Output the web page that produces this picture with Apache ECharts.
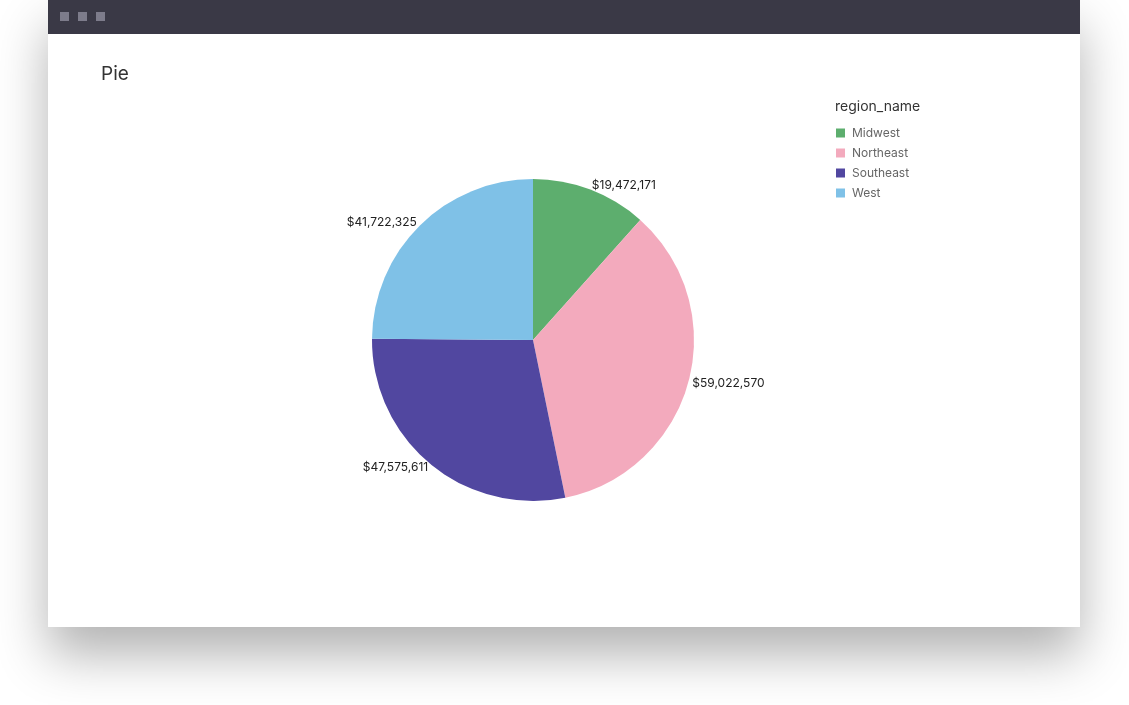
<!DOCTYPE html>
<html>
<head>
<meta charset="utf-8">
<script src="https://cdn.jsdelivr.net/npm/echarts@6/dist/echarts.min.js"></script>
<style>
  html, body { margin: 0; padding: 0; background: #ffffff; width: 1129px; height: 705px; overflow: hidden; }
  #frame { position: absolute; left: 48px; top: 0; width: 1032px; height: 627px; background: #fff;
           box-shadow: 0 28px 48px rgba(0,0,0,0.3); }
  #bar { position: absolute; left: 0; top: 0; width: 1032px; height: 34px; background: #3a3946; }
  .dot { position: absolute; top: 12px; width: 9px; height: 9px; background: #7d7c8b; }
  #chart { position: absolute; left: 0; top: 34px; width: 1032px; height: 593px; }
</style>
</head>
<body>
<div id="frame">
  <div id="bar">
    <div class="dot" style="left:12px"></div>
    <div class="dot" style="left:30px"></div>
    <div class="dot" style="left:48px"></div>
  </div>
  <div id="chart"></div>
</div>
<script>
const categories = ["Midwest", "Northeast", "Southeast", "West"];
const values = [19472171, 59022570, 47575611, 41722325];
const colors = ["#5DAE6E", "#F3AABD", "#5147A0", "#7FC1E7"];
const chartTitle = "Pie";
const legendTitle = "region_name";

const chart = echarts.init(document.getElementById('chart'));
const fmt = v => '$' + v.toLocaleString('en-US');
chart.setOption({
  animation: false,
  color: colors,
  title: [
    { text: chartTitle, left: 48, top: 26, textStyle: { fontFamily: 'Inter', fontSize: 19, fontWeight: 'normal', color: '#333' } },
    { text: legendTitle, left: 782, top: 61, textStyle: { fontFamily: 'Inter', fontSize: 14, fontWeight: 'normal', color: '#333' } }
  ],
  legend: {
    orient: 'vertical', left: 783, top: 87,
    itemWidth: 9, itemHeight: 9, itemGap: 6, icon: 'rect',
    textStyle: { fontFamily: 'Inter', fontSize: 12, color: '#666', lineHeight: 14, padding: [0, 0, 0, 2] },
    data: categories
  },
  series: [{
    type: 'pie',
    center: [485, 306],
    radius: 161,
    startAngle: 90,
    clockwise: true,
    avoidLabelOverlap: false,
    label: { show: true, position: 'outside', formatter: p => fmt(p.value),
             fontFamily: 'Inter', fontSize: 12, color: '#222', distanceToLabelLine: 0 },
    labelLine: { show: false, length: 4, length2: 0 },
    emphasis: { disabled: true },
    data: categories.map((c, i) => ({ name: c, value: values[i] }))
  }]
});
</script>
</body>
</html>
